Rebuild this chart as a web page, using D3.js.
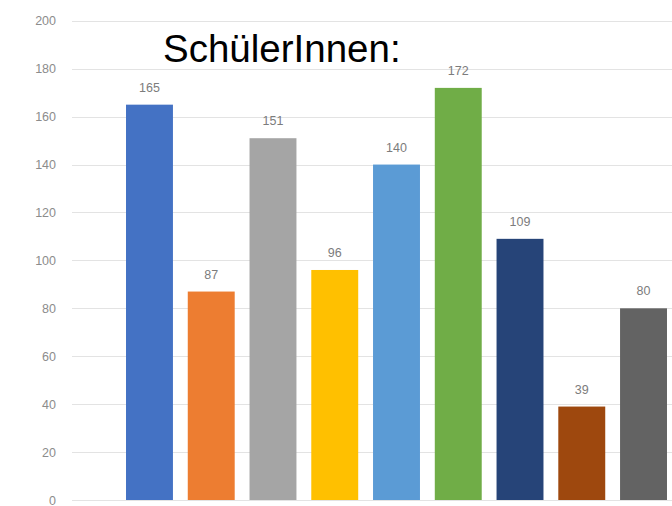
<!DOCTYPE html>
<html><head><meta charset="utf-8">
<script src="https://cdn.jsdelivr.net/npm/d3@7"></script>
<style>html,body{margin:0;padding:0;background:#fff;overflow:hidden}</style>
</head><body><svg id="c" width="672" height="506"></svg>
<script>
const categories = ["A","B","C","D","E","F","G","H","I"];
const values = [165, 87, 151, 96, 140, 172, 109, 39, 80];
const colors = ["#4472C4","#ED7D31","#A5A5A5","#FFC000","#5B9BD5","#70AD47","#264478","#9E480E","#636363"];
const yTicks = [0,20,40,60,80,100,120,140,160,180,200];
const title = "SchülerInnen:";

const svg = d3.select("#c");
const y = d3.scaleLinear().domain([0,200]).range([500, 20.8]);
const x = d3.scaleBand().domain(categories).range([118.6, 674.4]).paddingInner(0.24).paddingOuter(0.12);

const grid = svg.append("g");
grid.selectAll("line").data(yTicks).join("line")
  .attr("x1", 72).attr("x2", 672)
  .attr("y1", d => Math.round(y(d))+0.5).attr("y2", d => Math.round(y(d))+0.5)
  .attr("stroke", "#e3e3e3").attr("stroke-width", 1);

const yAxis = d3.axisLeft(y).tickValues(yTicks).tickSize(0).tickPadding(0);
const ga = svg.append("g").attr("transform","translate(56,0)").call(yAxis);
ga.select(".domain").remove();
ga.selectAll("text").attr("font-family","Liberation Sans, Arial, sans-serif").attr("font-size",12.5).attr("fill","#8c8c8c");

svg.append("g").selectAll("rect").data(values).join("rect")
  .attr("x", (d,i) => x(categories[i]))
  .attr("width", x.bandwidth())
  .attr("y", d => y(d))
  .attr("height", d => y(0) - y(d))
  .attr("fill", (d,i) => colors[i]);

svg.append("g").selectAll("text").data(values).join("text")
  .attr("x", (d,i) => x(categories[i]) + x.bandwidth()/2)
  .attr("y", d => y(d) - 13)
  .attr("text-anchor","middle")
  .attr("font-family","Liberation Sans, Arial, sans-serif")
  .attr("font-size",12.5).attr("fill","#7c7c7c")
  .text(d => d);

svg.append("text").attr("x",163).attr("y",62)
  .attr("font-family","Liberation Sans, Arial, sans-serif")
  .attr("font-size",38.5).attr("fill","#000")
  .text(title);
</script></body></html>
